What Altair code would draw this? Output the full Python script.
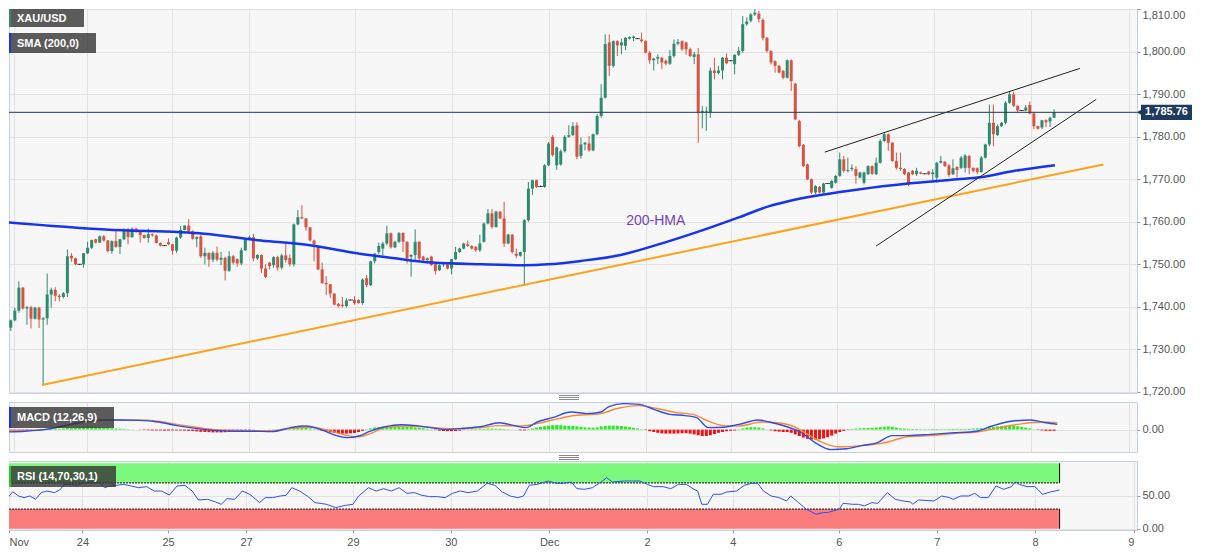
import altair as alt
import pandas as pd

# ---------------- candle data (hourly, XAU/USD) ----------------
OPEN = [1737.6, 1735.1, 1736.8, 1739.1, 1744.5, 1739.6, 1739.9, 1737.2, 1739.8, 1737.0,
        1737.3, 1742.9, 1744.0, 1742.6, 1742.3, 1743.2, 1752.0, 1751.4, 1750.0, 1750.0,
        1752.6, 1753.9, 1755.9, 1755.1, 1756.6, 1755.6, 1753.1, 1755.5, 1754.1, 1755.9,
        1758.3, 1756.4, 1758.4, 1757.6, 1756.9, 1756.2, 1757.1, 1756.8, 1755.0, 1754.4,
        1755.2, 1754.7, 1753.2, 1756.3, 1758.1, 1759.1, 1757.8, 1756.0, 1756.6, 1751.9,
        1752.7, 1751.1, 1752.7, 1751.1, 1751.5, 1748.5, 1751.9, 1751.2, 1750.2, 1753.3,
        1756.1, 1756.4, 1751.4, 1752.2, 1749.0, 1750.4, 1749.8, 1751.7, 1749.2, 1752.1,
        1751.5, 1750.0, 1759.4, 1761.1, 1760.8, 1758.7, 1755.6, 1754.3, 1748.8, 1745.6,
        1745.3, 1743.1, 1740.7, 1740.5, 1740.2, 1741.6, 1741.6, 1741.6, 1740.9, 1746.7,
        1745.1, 1750.7, 1752.9, 1753.7, 1754.9, 1757.3, 1754.0, 1755.3, 1757.4, 1755.3,
        1751.8, 1752.2, 1755.3, 1751.8, 1751.0, 1751.8, 1750.2, 1748.6, 1749.8, 1750.0,
        1749.0, 1751.2, 1752.9, 1753.7, 1754.7, 1754.3, 1754.1, 1753.3, 1755.3, 1759.6,
        1762.0, 1758.8, 1762.4, 1760.8, 1754.9, 1757.0, 1752.5, 1752.0, 1752.9, 1760.4,
        1767.8, 1769.8, 1768.3, 1768.2, 1773.3, 1780.0, 1773.3, 1773.5, 1776.6, 1780.0,
        1780.4, 1782.7, 1775.5, 1778.2, 1778.4, 1776.8, 1780.6, 1784.9, 1789.2, 1802.2,
        1796.7, 1802.5, 1801.5, 1801.4, 1803.1, 1803.3, 1803.1, 1802.9, 1802.5, 1799.8,
        1798.0, 1798.4, 1798.6, 1797.9, 1797.2, 1799.0, 1801.9, 1802.5, 1802.2, 1800.6,
        1798.8, 1799.4, 1785.8, 1785.9, 1785.8, 1795.6, 1795.0, 1795.6, 1798.6, 1797.9,
        1797.1, 1799.3, 1800.2, 1806.5, 1807.3, 1808.8, 1809.0, 1807.5, 1803.3, 1800.2,
        1797.8, 1796.7, 1795.5, 1793.9, 1798.0, 1792.5, 1783.7, 1778.1, 1773.5, 1770.0,
        1766.9, 1768.2, 1766.9, 1769.0, 1768.0, 1769.2, 1770.8, 1774.7, 1772.0, 1772.4,
        1772.4, 1770.4, 1769.2, 1771.2, 1773.1, 1771.2, 1773.9, 1779.0, 1780.6, 1778.6,
        1774.3, 1772.7, 1772.4, 1771.6, 1772.0, 1771.2, 1771.6, 1771.3, 1771.8, 1771.2,
        1770.4, 1773.9, 1774.1, 1773.3, 1771.2, 1772.9, 1772.7, 1772.7, 1775.5, 1772.7,
        1772.6, 1771.7, 1775.1, 1778.2, 1783.3, 1780.4, 1782.5, 1783.3, 1788.0, 1790.0,
        1787.3, 1786.2, 1786.2, 1787.5, 1785.5, 1782.5, 1782.2, 1783.9, 1783.6, 1784.5]
HIGH = [1737.9, 1737.0, 1739.8, 1746.0, 1744.7, 1740.2, 1740.2, 1740.0, 1740.0, 1737.6,
        1747.8, 1744.5, 1744.6, 1743.0, 1743.5, 1753.5, 1752.6, 1751.6, 1750.1, 1752.6,
        1755.3, 1755.8, 1756.0, 1756.8, 1756.9, 1755.7, 1755.6, 1757.8, 1756.0, 1758.5,
        1758.6, 1758.7, 1758.6, 1757.8, 1757.0, 1758.4, 1757.3, 1757.0, 1755.2, 1754.5,
        1756.1, 1754.8, 1756.5, 1759.0, 1759.2, 1760.6, 1758.0, 1756.6, 1757.0, 1753.9,
        1752.8, 1753.1, 1754.2, 1752.9, 1751.8, 1753.1, 1752.2, 1751.4, 1753.9, 1756.2,
        1756.8, 1757.2, 1752.4, 1752.3, 1750.0, 1750.5, 1751.9, 1752.0, 1752.5, 1754.9,
        1752.3, 1759.6, 1762.8, 1763.9, 1760.9, 1758.8, 1755.8, 1754.5, 1750.4, 1747.2,
        1745.4, 1743.2, 1740.9, 1742.3, 1742.0, 1741.7, 1742.5, 1741.8, 1746.7, 1747.5,
        1750.8, 1752.6, 1755.1, 1755.3, 1759.1, 1757.5, 1755.5, 1757.6, 1757.5, 1755.4,
        1752.4, 1758.2, 1755.4, 1752.0, 1751.6, 1752.0, 1750.3, 1750.0, 1750.2, 1750.2,
        1751.3, 1754.1, 1753.9, 1755.1, 1755.6, 1754.5, 1754.3, 1757.0, 1759.8, 1763.0,
        1763.0, 1762.6, 1762.5, 1764.7, 1757.2, 1757.1, 1753.7, 1753.0, 1760.6, 1769.4,
        1769.9, 1769.9, 1768.5, 1773.5, 1778.8, 1780.4, 1777.7, 1777.0, 1780.4, 1782.7,
        1783.4, 1783.4, 1779.8, 1778.8, 1780.2, 1780.8, 1785.3, 1792.4, 1804.1, 1804.1,
        1802.7, 1802.7, 1803.1, 1803.5, 1803.6, 1803.8, 1803.2, 1804.5, 1802.7, 1800.2,
        1798.6, 1799.4, 1798.8, 1798.2, 1800.4, 1802.9, 1803.0, 1802.7, 1802.4, 1801.0,
        1800.0, 1800.9, 1787.3, 1787.1, 1796.3, 1798.6, 1796.7, 1798.8, 1799.6, 1798.0,
        1799.4, 1801.1, 1808.4, 1808.1, 1809.1, 1810.0, 1809.6, 1807.9, 1803.5, 1800.4,
        1798.0, 1796.9, 1795.7, 1798.2, 1798.2, 1792.7, 1784.0, 1778.3, 1773.7, 1770.2,
        1768.6, 1768.4, 1769.2, 1769.1, 1769.8, 1771.0, 1776.3, 1775.5, 1775.1, 1773.5,
        1773.1, 1771.8, 1771.8, 1773.3, 1773.3, 1775.1, 1779.4, 1781.0, 1780.8, 1778.8,
        1776.3, 1776.3, 1772.6, 1771.8, 1772.2, 1772.7, 1771.8, 1771.4, 1772.0, 1772.4,
        1774.1, 1775.5, 1774.3, 1773.6, 1774.7, 1773.1, 1775.5, 1775.9, 1775.7, 1772.8,
        1772.8, 1775.5, 1778.4, 1787.6, 1787.6, 1782.9, 1783.5, 1788.4, 1790.8, 1790.6,
        1787.4, 1786.3, 1787.5, 1788.3, 1785.9, 1782.6, 1784.0, 1784.1, 1784.7, 1786.5]
LOW = [1733.3, 1734.3, 1736.6, 1738.6, 1739.4, 1735.8, 1734.9, 1737.0, 1735.0, 1721.6,
       1735.8, 1739.8, 1741.3, 1741.3, 1742.0, 1742.3, 1750.6, 1749.8, 1749.9, 1749.2,
       1752.4, 1753.6, 1754.9, 1755.0, 1755.3, 1752.8, 1752.5, 1753.9, 1752.4, 1755.7,
       1754.7, 1756.2, 1757.4, 1755.1, 1756.0, 1755.1, 1756.5, 1754.9, 1754.2, 1754.3,
       1754.5, 1752.3, 1752.7, 1756.0, 1758.0, 1757.5, 1755.8, 1754.0, 1751.5, 1750.0,
       1749.4, 1750.5, 1750.7, 1749.8, 1746.2, 1748.2, 1750.0, 1749.4, 1749.8, 1753.1,
       1755.8, 1750.7, 1751.0, 1748.0, 1746.8, 1748.8, 1749.2, 1748.5, 1748.8, 1750.4,
       1749.5, 1749.5, 1759.2, 1760.6, 1757.9, 1755.4, 1750.7, 1748.6, 1745.4, 1742.8,
       1742.1, 1740.4, 1739.8, 1739.8, 1739.8, 1741.5, 1740.5, 1740.7, 1740.5, 1744.6,
       1744.9, 1750.2, 1752.3, 1752.0, 1754.5, 1753.7, 1753.8, 1755.0, 1752.9, 1750.2,
       1747.1, 1751.0, 1750.6, 1750.8, 1750.8, 1749.6, 1747.6, 1748.4, 1749.4, 1748.8,
       1747.6, 1751.0, 1752.7, 1753.5, 1754.1, 1753.5, 1752.9, 1752.9, 1755.1, 1759.4,
       1758.4, 1758.6, 1760.6, 1754.1, 1754.7, 1752.5, 1751.4, 1751.8, 1745.1, 1760.0,
       1766.3, 1768.0, 1768.2, 1768.0, 1773.1, 1775.3, 1772.2, 1773.2, 1776.3, 1779.8,
       1780.2, 1774.7, 1774.9, 1776.8, 1776.5, 1776.6, 1780.4, 1784.5, 1789.0, 1794.3,
       1796.3, 1799.0, 1799.4, 1800.4, 1802.9, 1802.5, 1803.0, 1802.2, 1799.6, 1797.2,
       1795.6, 1797.1, 1795.9, 1796.8, 1796.9, 1798.6, 1801.5, 1800.2, 1799.3, 1798.8,
       1797.1, 1778.6, 1782.0, 1781.4, 1784.5, 1793.5, 1794.7, 1793.5, 1797.1, 1797.8,
       1794.7, 1799.0, 1799.8, 1806.1, 1806.9, 1808.4, 1806.9, 1802.7, 1799.8, 1797.0,
       1795.1, 1794.9, 1793.5, 1793.7, 1790.8, 1783.9, 1777.5, 1772.9, 1769.8, 1766.5,
       1766.5, 1766.7, 1766.7, 1768.9, 1767.8, 1769.0, 1770.6, 1771.6, 1771.6, 1772.0,
       1769.0, 1770.2, 1768.8, 1771.0, 1771.0, 1771.0, 1773.7, 1778.8, 1776.7, 1774.1,
       1772.3, 1772.0, 1771.0, 1768.4, 1771.0, 1770.8, 1771.2, 1771.2, 1771.0, 1769.2,
       1769.2, 1773.7, 1772.9, 1770.6, 1771.0, 1770.4, 1772.4, 1771.6, 1771.2, 1771.6,
       1771.2, 1771.6, 1774.9, 1777.8, 1777.8, 1780.2, 1782.3, 1782.9, 1787.8, 1787.0,
       1785.7, 1786.1, 1786.0, 1785.3, 1781.8, 1781.7, 1781.8, 1782.3, 1782.3, 1784.4]
CLOSE = [1735.1, 1736.8, 1739.1, 1744.5, 1739.6, 1739.9, 1737.2, 1739.8, 1737.0, 1737.3,
         1742.9, 1744.0, 1742.6, 1742.3, 1743.2, 1751.9, 1751.4, 1750.0, 1750.0, 1752.6,
         1753.9, 1755.7, 1755.1, 1756.6, 1755.6, 1753.1, 1755.5, 1754.1, 1755.9, 1758.3,
         1756.4, 1758.4, 1757.6, 1756.9, 1756.2, 1757.1, 1756.8, 1755.0, 1754.4, 1754.4,
         1754.7, 1753.2, 1756.3, 1758.1, 1759.1, 1757.8, 1756.0, 1756.4, 1751.9, 1752.7,
         1751.1, 1752.7, 1751.1, 1751.5, 1748.5, 1751.9, 1750.4, 1750.2, 1753.3, 1756.1,
         1756.4, 1751.4, 1752.2, 1749.0, 1747.0, 1749.6, 1751.7, 1749.2, 1752.1, 1751.0,
         1750.0, 1759.4, 1761.1, 1760.8, 1758.7, 1755.6, 1754.7, 1748.8, 1745.6, 1745.3,
         1743.1, 1740.5, 1740.2, 1740.2, 1741.5, 1741.6, 1740.9, 1740.9, 1746.4, 1745.1,
         1750.7, 1752.5, 1754.3, 1754.9, 1757.3, 1754.0, 1755.3, 1757.3, 1755.3, 1751.4,
         1752.2, 1755.3, 1751.4, 1751.0, 1751.4, 1749.8, 1748.4, 1749.8, 1749.9, 1749.0,
         1751.2, 1752.9, 1753.7, 1754.9, 1754.3, 1753.7, 1753.3, 1754.9, 1759.6, 1762.0,
         1758.8, 1762.4, 1760.8, 1754.9, 1757.0, 1752.9, 1752.0, 1752.9, 1760.4, 1767.8,
         1769.8, 1768.2, 1768.3, 1773.3, 1778.4, 1775.7, 1777.5, 1776.6, 1780.0, 1780.4,
         1782.5, 1775.3, 1778.2, 1778.6, 1776.8, 1780.6, 1784.9, 1789.2, 1801.8, 1796.7,
         1802.5, 1801.5, 1802.2, 1803.3, 1803.5, 1803.6, 1803.1, 1802.5, 1799.8, 1798.0,
         1798.4, 1798.8, 1797.5, 1797.2, 1799.0, 1801.9, 1802.3, 1800.6, 1800.6, 1799.0,
         1799.4, 1785.8, 1786.1, 1786.1, 1795.6, 1795.0, 1795.6, 1798.6, 1797.3, 1797.9,
         1799.3, 1800.2, 1806.5, 1807.1, 1808.8, 1809.2, 1807.7, 1803.2, 1800.2, 1797.5,
         1796.7, 1795.1, 1793.9, 1798.0, 1793.1, 1784.1, 1777.8, 1773.1, 1770.0, 1766.9,
         1768.4, 1766.9, 1769.0, 1769.0, 1769.6, 1770.8, 1774.7, 1772.0, 1772.2, 1772.7,
         1770.8, 1771.6, 1771.6, 1773.1, 1771.3, 1773.9, 1779.0, 1780.6, 1778.6, 1774.3,
         1772.7, 1772.4, 1771.2, 1768.8, 1771.2, 1772.0, 1771.3, 1771.3, 1771.2, 1771.6,
         1773.9, 1774.3, 1773.1, 1771.0, 1772.6, 1772.2, 1775.1, 1775.6, 1772.7, 1772.0,
         1771.7, 1775.1, 1778.2, 1783.3, 1780.6, 1782.5, 1783.3, 1788.0, 1790.0, 1787.3,
         1786.2, 1786.2, 1786.9, 1785.5, 1782.5, 1781.9, 1783.9, 1783.4, 1784.5, 1785.76]

# 200-period moving average (sampled along the line)
SMA_I = [0, 24.4, 48.9, 62.8, 75, 87.3, 95.4, 105.2, 117.5, 128, 133.8, 142, 151.8,
         161.6, 171.4, 181.2, 188.6, 193.5, 210.6, 222.9, 235.1, 240.8, 249, 259.2]
SMA_V = [1759.9, 1758.2, 1757.2, 1755.6, 1754.5, 1752.5, 1751.5, 1750.4, 1750.0, 1749.8,
         1750.0, 1750.8, 1752.2, 1754.8, 1757.8, 1761.1, 1763.7, 1764.9, 1767.6, 1769.0,
         1770.0, 1770.5, 1771.95, 1773.3]

# trend lines (candle index, price)
SUPPORT_I = [8.7, 271.2]
SUPPORT_P = [1721.6, 1773.5]
CHANNEL_I = [202.3, 265.4, 215.0, 269.4]
CHANNEL_P = [1776.4, 1796.1, 1754.3, 1788.8]
CHANNEL_G = ["upper", "upper", "lower", "lower"]
LAST_PRICE = [1785.76]
HMA_LABEL_I = [160.5]
HMA_LABEL_P = [1760.2]

# MACD (12,26,9)
HIST = [-0.3, -0.3, -0.25, -0.2, -0.15,
        -0.1, -0.05, 0, 0.05, 0.1, 0.1, 0.15, 0.15, 0.2,
        0.3, 0.4, 0.5, 0.55, 0.6, 0.65, 0.7, 0.7, 0.65, 0.6, 0.5, 0.45, 0.35,
        0.25, 0.2, 0.15, 0.1, 0.05, 0, -0.05,
        -0.1, -0.15, -0.2, -0.2, -0.2, -0.25, -0.25, -0.2, -0.2, -0.2, -0.25, -0.3, -0.35,
        -0.45, -0.55, -0.6, -0.65, -0.7, -0.7, -0.7, -0.65, -0.6, -0.5, -0.35,
        -0.25, -0.15, -0.1, -0.05, 0, 0, 0.05, 0.05, 0.1, 0.1, 0.15, 0.25,
        0.35, 0.45, 0.55, 0.5, 0.4, 0.3,
        0.1, -0.1,
        -0.3, -0.5, -0.7, -0.85, -0.95, -1.0, -1.0, -0.95, -0.85, -0.6, -0.3,
        0.1, 0.3, 0.5, 0.6, 0.7, 0.75, 0.8, 0.8, 0.8, 0.75, 0.7, 0.65, 0.55, 0.45, 0.35,
        0.2, 0.1,
        -0.1, -0.25, -0.35, -0.4, -0.4, -0.35, -0.25, -0.1,
        0.05, 0.1, 0.15, 0.2, 0.2, 0.25, 0.25, 0.2, 0.2, 0.15, 0.1, 0.05, 0,
        -0.15, -0.2,
        0.1, 0.3, 0.5, 0.7, 0.85, 1.0, 1.1, 1.15, 1.1, 1.0, 0.95, 0.9, 0.8, 0.7,
        0.55, 0.5, 0.5, 0.55,
        0.8, 0.9, 1.0, 1.0, 0.95, 0.9, 0.8, 0.6, 0.45, 0.3,
        0.1, -0.1,
        -0.4, -0.6, -0.8, -0.95, -1.0, -1.0, -1.0, -0.95, -0.9, -0.9, -1.0,
        -1.2, -1.4, -1.6, -1.6, -1.4, -1.1,
        -0.8, -0.6, -0.4, -0.3, -0.2, -0.05,
        0.3, 0.5, 0.6, 0.6, 0.5, 0.3,
        0.05,
        -0.2, -0.4, -0.5, -0.6, -0.6, -0.8,
        -1.2, -1.6, -2.0, -2.3, -2.5, -2.5, -2.4, -2.2, -1.9, -1.5, -1.0,
        -0.6, -0.3, -0.1,
        0.15, 0.25, 0.3, 0.35, 0.4, 0.45, 0.5, 0.6, 0.7, 0.8, 0.7, 0.5,
        0.3, 0.25, 0.2, 0.15, 0.15, 0.1, 0.1, 0.1, 0.15, 0.15, 0.1, 0.1, 0.15, 0.2, 0.2,
        0.15, 0.15, 0.2, 0.25, 0.3, 0.35, 0.4,
        0.5, 0.7, 0.8, 0.9, 1.0, 1.0, 0.95, 0.85, 0.7, 0.5,
        0.3, 0.1, -0.1, -0.2, -0.3, -0.3, -0.3]
MACD_I = [0, 4.5, 9.2, 13.9, 18.6, 23.3, 28, 32.7, 37.4, 42.1, 46.7, 51.4, 56.1, 60.8,
          65.5, 70.2, 74, 77.7, 81.5, 84.3, 87.1, 89.9, 93.6, 97.4, 101.2, 104.9, 108.7,
          112.4, 117.1, 121.8, 125.5, 128.4, 131.2, 135, 139.6, 143.4, 147, 148.8, 152.6,
          156.4, 160.2, 164, 167.8, 170.6, 173.5, 177.3, 181.1, 185.8, 188.6, 192.4, 196.2,
          200, 203.8, 207.6, 211.4, 215.2, 219, 222.8, 228.5, 234.2, 239.9, 243.7, 248.4,
          253.2, 257, 259.8]
MACD_V = [-0.6, -0.4, 0.0, 0.9, 1.9, 2.4, 2.4, 2.3, 1.9, 1.0, 0.3, -0.2, -0.4, -0.4,
          -0.5, 0.5, 0.9, 0.0, -1.5, -2.0, -1.6, -0.4, 0.7, 1.2, 1.0, 0.5, 0.0,
          0.3, 0.7, 1.7, 1.0, 0.5, 1.9, 3.0, 4.4, 4.0, 4.4, 5.7, 6.5,
          6.3, 5.0, 3.8, 3.5, 3.0, 0.5, 0.6, 1.3, 2.4, 1.9, 0.9, -0.6,
          -3.3, -5.0, -4.8, -4.0, -3.3, -1.5, -1.5, -1.2, -0.8, -0.4, 0.9, 2.1,
          2.4, 1.7, 1.3]
SIG_I = [0, 9.2, 18.6, 26.1, 32.7, 37.4, 42.1, 46.7, 51.4, 56.1, 65.5, 70.2, 74.9, 79.6,
         84.3, 87.1, 89.9, 93.6, 98.3, 103, 107.7, 112.4, 117.1, 121.8, 127.4, 131.2, 135,
         139.6, 146.9, 150.7, 156.4, 161.1, 165.9, 169.7, 173.5, 177.3, 181.1, 186.7,
         190.5, 194.3, 198.1, 201.9, 205.7, 211.4, 217.1, 222.8, 228.5, 234.2, 239.9,
         245.6, 251.3, 256, 259.8]
SIG_V = [-0.2, 0.0, 1.7, 2.4, 2.4, 2.1, 1.3, 0.6, 0.0, -0.2, -0.3, 0.3, 0.6, -0.2,
         -1.5, -1.8, -1.0, 0.5, 0.9, 0.7, 0.3, 0.2, 0.5, 1.0, 0.9, 1.5, 2.4,
         3.4, 4.0, 5.2, 6.0, 5.2, 4.2, 3.8, 2.1, 1.0, 0.9, 1.9,
         1.7, 0.9, -1.2, -3.3, -4.3, -4.0, -3.3, -1.8, -1.5, -1.0, -0.6,
         0.5, 1.5, 1.9, 1.7]

# RSI (14,70,30,1)
RSI_I = [0, 1.2, 2.7, 4.1, 5.5, 6.9, 8.3, 9.7, 11.1, 13, 14.4, 15.3, 17.2, 18.6, 20, 22.4,
         24.2, 25.2, 26.6, 28, 29.9, 31.7, 33.6, 35.5, 37.4, 39.2, 41.1, 43, 44.9, 46.7,
         48.2, 50.5, 52.4, 53.8, 55.2, 57.1, 59, 60.8, 61.8, 63.2, 64.6, 66.4, 68.3, 69.7,
         71.1, 73, 74.9, 76.8, 79.6, 81.9, 84.3, 86.1, 87.5, 89.9, 91.8, 93.6, 95.5, 97.4,
         99.3, 101.2, 103, 104.9, 106.8, 108.7, 110.5, 112.4, 114.3, 116.6, 119, 120.9,
         122.7, 124.6, 126.5, 127.9, 129.3, 131.2, 134, 135.9, 137.7, 139.6, 141, 142.9,
         144.8, 146.9, 148.3, 149.7, 152.6, 156.4, 158.3, 159.7, 162.1, 164, 165.9, 167.8,
         169.7, 170.6, 171.6, 173, 174.4, 176.3, 177.7, 180.1, 182, 183.9, 185.3, 186.7,
         188.6, 190.5, 192.4, 193.4, 195.3, 197.2, 199.6, 201.5, 202.4, 203.8, 205.3,
         206.2, 208.6, 210, 211.4, 213.3, 214.7, 217.1, 219, 220.9, 222.8, 223.3, 224.7,
         228.5, 230.4, 232.3, 233.2, 235.1, 237, 238.5, 239.9, 241.8, 243.7, 245.6, 247.5,
         248.4, 249.4, 251.3, 253.2, 254.1, 255.1, 256, 257, 259.3]
RSI_V = [35.7, 44.9, 56.6, 50.0, 47.5, 50.0, 44.9, 55.1, 57.6, 55.1, 60.2, 67.8, 67.8, 66.3,
         70.4, 71.4, 69.4, 62.7, 65.3, 66.3, 67.8, 65.3, 62.7, 64.3, 57.6, 57.6, 51.5, 65.3,
         66.3, 57.6, 43.9, 44.9, 40.9, 37.3, 45.9, 44.9, 57.6, 52.6, 47.5, 39.9, 47.5, 47.5,
         50.0, 51.0, 62.7, 57.6, 50.0, 39.9, 37.3, 32.2, 35.7, 37.3, 50.0, 62.7, 57.6, 61.2,
         57.6, 62.7, 54.1, 55.1, 51.0, 49.0, 49.0, 47.5, 54.1, 57.6, 55.1, 57.6, 69.4, 66.3,
         56.1, 50.0, 47.5, 50.0, 66.3, 67.8, 72.9, 69.4, 69.4, 71.4, 61.2, 60.2, 62.7,
         71.4, 78.0, 71.4, 72.9, 72.9, 67.8, 64.3, 64.3, 61.2, 67.8, 67.8, 60.2, 57.6, 37.3,
         37.3, 52.6, 52.6, 56.1, 57.6, 66.3, 69.4, 69.4, 57.6, 50.0, 47.5, 42.4, 50.0, 39.9,
         29.7, 22.1, 24.7, 24.7, 27.2, 29.7, 38.8, 37.3, 37.3, 34.8, 39.9, 38.8, 55.1, 44.9,
         42.4, 40.9, 37.3, 43.9, 42.4, 50.0, 47.5, 44.9, 50.0, 50.0, 54.1, 47.5, 47.5, 65.3,
         60.2, 64.3, 71.4, 67.8, 64.3, 64.3, 59.2, 52.6, 54.1, 56.1, 59.2]
RSI_OVERBOUGHT = [70, 100]
RSI_OVERSOLD = [0, 30]
RSI_END = 259.3

# day labels on the time axis (candle index of each label)
DAY_IDX = [1.8, 19.8, 40.8, 59.9, 86.1, 110.1, 134.2, 158.2, 179.2, 205.2, 229.2, 253.3, 277.5]
DAY_LBL = ["Nov", "24", "25", "27", "29", "30", "Dec", "2", "4", "6", "7", "8", "9"]

# ---------------- styling ----------------
GREEN = "#2f8a70"
RED = "#d75442"
NAVY = "#1f3a5f"
FONT = "Liberation Sans"
GRID = "#e2e2e2"
W = 1128
X_DOM = [1.797, 278.27]
xs = alt.Scale(domain=X_DOM, nice=False, zero=False)

label_expr = " : ".join(f"datum.value == {v} ? '{l}'" for v, l in zip(DAY_IDX, DAY_LBL)) + " : ''"

grid_axis = alt.Axis(values=DAY_IDX, grid=True, gridColor=GRID, labels=False, ticks=False,
                     domain=False, title=None, minExtent=0, maxExtent=0)
label_axis = alt.Axis(values=DAY_IDX, grid=True, gridColor=GRID, labelExpr=label_expr,
                      labelFlush=4, tickSize=3, tickColor="#999", labelPadding=3,
                      domain=False, title=None, labelFont=FONT, labelFontSize=11,
                      labelColor="#555")


def yaxis(values):
    return alt.Axis(orient="right", values=values, format=",.2f", grid=True, gridColor=GRID,
                    tickSize=3, tickColor="#999", labelPadding=2, labelFont=FONT,
                    labelFontSize=11, labelColor="#555", domain=False, title=None,
                    labelFlush=1)


def legend_box(text, y0, y1, w, bar_color):
    d = pd.DataFrame({"t": [text]})
    box = alt.Chart(d).mark_rect(color="#333333", opacity=0.8).encode(
        x=alt.value(0), x2=alt.value(w), y=alt.value(y0), y2=alt.value(y1))
    bar = alt.Chart(d).mark_rect(color=bar_color).encode(
        x=alt.value(0), x2=alt.value(2), y=alt.value(y0), y2=alt.value(y1))
    txt = alt.Chart(d).mark_text(color="white", fontWeight="bold", fontSize=11, font=FONT,
                                 align="left", baseline="middle").encode(
        x=alt.value(8), y=alt.value((y0 + y1) / 2 + 0.5), text="t:N")
    return [box, bar, txt]


def grip(y):
    d = pd.DataFrame({"k": [0]})
    return [alt.Chart(d).mark_rule(color="#8a8a8a", strokeWidth=1).encode(
        x=alt.value(550), x2=alt.value(570), y=alt.value(y + k * 2)) for k in range(3)]


# ---------------- main panel ----------------
candles = pd.DataFrame({"i": list(range(len(CLOSE))), "o": OPEN, "h": HIGH,
                        "l": LOW, "c": CLOSE})
ys_main = alt.Scale(domain=[1719.72, 1810.07], nice=False, zero=False)
main_yaxis = yaxis(list(range(1720, 1811, 10)))
XM = alt.X("i:Q", scale=xs, axis=grid_axis)


def YM(f):
    return alt.Y(f, scale=ys_main, axis=main_yaxis)


dir_expr = "datum.c > datum.o ? 'up' : (datum.c < datum.o ? 'down' : 'flat')"
ccolor = alt.Color("dir:N", scale=alt.Scale(domain=["up", "down", "flat"],
                                            range=[GREEN, RED, "#111111"]), legend=None)
base = alt.Chart(candles).transform_calculate(dir=dir_expr)
wicks = base.mark_rule(strokeWidth=1, clip=True).encode(x=XM, y=YM("l:Q"), y2="h:Q", color=ccolor)
bodies = base.mark_bar(width=3, clip=True).encode(x=XM, y=YM("o:Q"), y2="c:Q", color=ccolor)
doji = base.transform_filter("datum.o == datum.c").mark_tick(
    orient="horizontal", size=5, thickness=1, color="#111111", clip=True).encode(x=XM, y=YM("c:Q"))

sma = alt.Chart(pd.DataFrame({"i": SMA_I, "v": SMA_V})).mark_line(
    color="#1633f0", strokeWidth=2.5, interpolate="monotone", clip=True).encode(x=XM, y=YM("v:Q"))
support = alt.Chart(pd.DataFrame({"i": SUPPORT_I, "p": SUPPORT_P})).mark_line(
    color="#ffa21a", strokeWidth=2).encode(x=XM, y=YM("p:Q"))
channel = alt.Chart(pd.DataFrame({"i": CHANNEL_I, "p": CHANNEL_P, "g": CHANNEL_G})).mark_line(
    color="#222222", strokeWidth=1).encode(x=XM, y=YM("p:Q"), detail="g:N")

last = alt.Chart(pd.DataFrame({"p": LAST_PRICE})).transform_calculate(
    lo="datum.p - 1.78", hi="datum.p + 1.78")
last_line = last.mark_rule(color=NAVY, strokeWidth=1).encode(y=YM("p:Q"))
last_box = last.mark_rect(color=NAVY).encode(x=alt.value(1132), x2=alt.value(1183),
                                             y=YM("lo:Q"), y2="hi:Q")
last_arrow = last.mark_point(shape="triangle-left", filled=True, size=28, color=NAVY,
                             opacity=1).encode(x=alt.value(1130), y=YM("p:Q"))
last_text = last.mark_text(color="white", fontWeight="bold", fontSize=11, font=FONT,
                           align="center", baseline="middle").encode(
    x=alt.value(1157.5), y=YM("p:Q"), text=alt.Text("p:Q", format=",.2f"))

hma_lbl = alt.Chart(pd.DataFrame({"i": HMA_LABEL_I, "p": HMA_LABEL_P, "t": ["200-HMA"]})).mark_text(
    color="#7346b8", fontSize=14, font=FONT, baseline="middle").encode(
    x=XM, y=YM("p:Q"), text="t:N")

main = alt.layer(
    wicks, bodies, doji, sma, support, channel, last_line, hma_lbl,
    last_box, last_arrow, last_text,
    *legend_box("XAU/USD", 0, 18, 75, GREEN),
    *legend_box("SMA (200,0)", 24, 44, 87, "#1633f0"),
    *grip(386.5),
).properties(width=W, height=384)

# ---------------- MACD panel ----------------
ys_macd = alt.Scale(domain=[-5.6, 6.9], nice=False, zero=False)
macd_yaxis = yaxis([0])
XP = alt.X("i:Q", scale=xs, axis=grid_axis)


def YMD(f):
    return alt.Y(f, scale=ys_macd, axis=macd_yaxis)


hist_df = pd.DataFrame({"i": list(range(len(HIST))), "h": HIST})
hist_base = alt.Chart(hist_df).transform_calculate(z="0")
hist_pos = hist_base.transform_filter("datum.h > 0").mark_bar(
    width=3, clip=True, color="#22ee22").encode(x=XP, y=YMD("h:Q"), y2="z:Q")
hist_neg = hist_base.transform_filter("datum.h < 0").mark_bar(
    width=3, clip=True, color="#f01414").encode(x=XP, y=YMD("h:Q"), y2="z:Q")
macd_line = alt.Chart(pd.DataFrame({"i": MACD_I, "v": MACD_V})).mark_line(
    color="#2a4cf2", strokeWidth=1.4, interpolate="monotone", clip=True).encode(x=XP, y=YMD("v:Q"))
sig_line = alt.Chart(pd.DataFrame({"i": SIG_I, "v": SIG_V})).mark_line(
    color="#ff8a2b", strokeWidth=1.4, interpolate="monotone", clip=True).encode(x=XP, y=YMD("v:Q"))

macd = alt.layer(
    hist_pos, hist_neg, sig_line, macd_line,
    *legend_box("MACD (12,26,9)", 5, 26, 105, "#1633f0"),
    *grip(53.5),
).properties(width=W, height=50)

# ---------------- RSI panel ----------------
ys_rsi = alt.Scale(domain=[-2.0, 103.5], nice=False, zero=False)
rsi_yaxis = yaxis([0, 50])
XR = alt.X("i:Q", scale=xs, axis=label_axis)


def YR(f):
    return alt.Y(f, scale=ys_rsi, axis=rsi_yaxis)


def band(lohi, fill, edge_at):
    d = pd.DataFrame({"x0": [X_DOM[0]], "x1": [RSI_END], "lo": [lohi[0]], "hi": [lohi[1]],
                      "edge": [lohi[edge_at]]})
    rect = alt.Chart(d).mark_rect(color=fill, opacity=1).encode(
        x=alt.X("x0:Q", scale=xs, axis=label_axis), x2="x1:Q", y=YR("lo:Q"), y2="hi:Q")
    dash = alt.Chart(d).mark_rule(color="#111111", strokeWidth=1, strokeDash=[2, 1]).encode(
        x=alt.X("x0:Q", scale=xs, axis=label_axis), x2="x1:Q", y=YR("edge:Q"))
    side = alt.Chart(d).mark_rule(color="#111111", strokeWidth=1).encode(
        x=alt.X("x1:Q", scale=xs, axis=label_axis), y=YR("lo:Q"), y2="hi:Q")
    return [rect, dash, side]


rsi_line = alt.Chart(pd.DataFrame({"i": RSI_I, "v": RSI_V})).mark_line(
    color="#3050f5", strokeWidth=1, clip=True).encode(x=XR, y=YR("v:Q"))

rsi = alt.layer(
    *band(RSI_OVERBOUGHT, "#7cf87c", 0),
    *band(RSI_OVERSOLD, "#fa7c7c", 1),
    rsi_line,
    *legend_box("RSI (14,70,30,1)", 5, 26, 107, "#22cc22"),
).properties(width=W, height=69)

chart = alt.vconcat(main, macd, rsi, spacing=9, bounds="flush").resolve_scale(
    color="independent"
).properties(
    padding=0, background="white"
).configure_view(stroke="#c6d0e4", fill="#f7f7f7")

chart.save("out.html", embed_options={"renderer": "svg", "actions": False})
